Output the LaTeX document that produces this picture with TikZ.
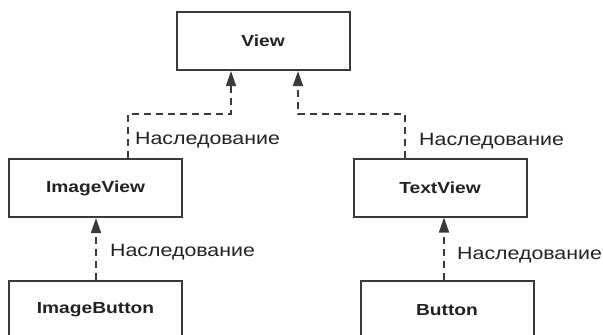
\documentclass[tikz,border=0pt]{standalone}
\usepackage{fontspec}
\setmainfont{Liberation Sans}
\newfontfamily\labfont[FakeStretch=1.2]{Liberation Sans}
\usetikzlibrary{arrows.meta}
\definecolor{linecol}{HTML}{3A3A3A}
\definecolor{txtcol}{HTML}{222222}
\tikzset{
  cls/.style={draw=linecol, line width=2pt, minimum width=173pt, minimum height=58pt,
    inner sep=0pt, font=\labfont\fontsize{16}{18}\selectfont\bfseries, text=txtcol},
  inh/.style={draw=linecol, line width=1.5pt, dash pattern=on 7pt off 5pt,
    -{Triangle[length=15pt,width=10pt]}},
  lab/.style={anchor=west, inner sep=0pt, font=\labfont\fontsize{17.8}{19}\selectfont, text=txtcol}
}
\begin{document}
\begin{tikzpicture}[x=1pt,y=-1pt]
\useasboundingbox (0,0) rectangle (603,335);
\clip (0,0) rectangle (603,335);
\node[cls] (v) at (263,41) {View};
\node[cls] (iv) at (95.5,188) {ImageView};
\node[cls] (tv) at (440,187.5) {TextView};
\node[cls] (ib) at (95.5,310) {ImageButton};
\node[cls] (b) at (447,310) {Button};
\coordinate (c1) at (128,114);
\coordinate (c2) at (405,114);
\draw[inh] (iv.north -| c1) -- (c1) -| (v.south -| 231,0);
\draw[inh] (tv.north -| c2) -- (c2) -| (v.south -| 298,0);
\draw[inh] (ib.north -| 96,0) -- (iv.south -| 96,0);
\draw[inh] (b.north -| 444,0) -- (tv.south -| 444,0);
\node[lab] (l1) at (135,140) {Наследование};
\node[lab] (l2) at (419,141) {Наследование};
\node[lab] (l3) at (110,252) {Наследование};
\node[lab] (l4) at (457,255) {Наследование};
\end{tikzpicture}
\end{document}
